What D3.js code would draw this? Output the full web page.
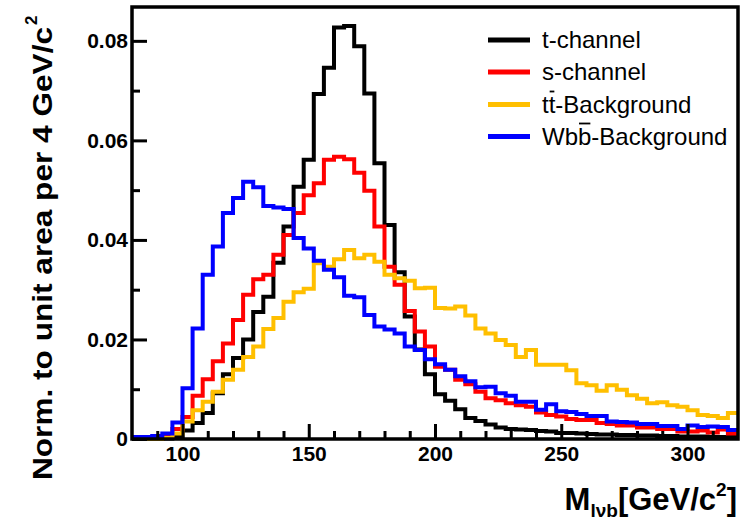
<!DOCTYPE html>
<html>
<head>
<meta charset="utf-8">
<script src="https://cdn.jsdelivr.net/npm/d3@7"></script>
<style>
  body { margin: 0; background: #fff; }
  svg { display: block; }
</style>
</head>
<body>
<svg></svg>
<script>
const size = {w: 748, h: 522};
const plot = {l: 132, r: 738, t: 7, b: 439};

// 4 GeV bins from 80 to 320
const binEdges = d3.range(80, 324, 4);

const tChannel = [0, 0, 0, 0.0001, 0.0004, 0.0017, 0.0032, 0.0052, 0.0092, 0.013,
  0.0163, 0.02, 0.0255, 0.0286, 0.0354, 0.0427, 0.0507, 0.0561, 0.0693, 0.0746,
  0.0827, 0.083, 0.0789, 0.0694, 0.0554, 0.043, 0.0335, 0.0246, 0.018, 0.013,
  0.009, 0.0077, 0.006, 0.0042, 0.0036, 0.0029, 0.0023, 0.002, 0.0019, 0.0018,
  0.0016, 0.0015, 0.0012, 0.0012, 0.0011, 0.001, 0.0009, 0.0009, 0.0008, 0.0008,
  0.0007, 0.0007, 0.0006, 0.0006, 0.0005, 0.0005, 0.0005, 0.0004, 0.0004, 0.0004];

const sChannel = [0, 0, 0, 0.0004, 0.002, 0.0044, 0.0087, 0.012, 0.0156, 0.0192,
  0.0239, 0.029, 0.0321, 0.033, 0.037, 0.041, 0.0454, 0.049, 0.0514, 0.0561,
  0.0567, 0.0562, 0.0535, 0.0499, 0.0427, 0.0346, 0.031, 0.0257, 0.0216, 0.0186,
  0.0145, 0.0139, 0.0119, 0.011, 0.0095, 0.0082, 0.0078, 0.0072, 0.0068, 0.0065,
  0.0053, 0.0048, 0.0045, 0.004, 0.0038, 0.0038, 0.0032, 0.003, 0.0027, 0.0027,
  0.0023, 0.0023, 0.002, 0.002, 0.0015, 0.0015, 0.0017, 0.0013, 0.0019, 0.0011];

const ttBackground = [0, 0, 0, 0.0002, 0.0011, 0.0035, 0.0058, 0.0075, 0.0095, 0.0119,
  0.0139, 0.0165, 0.0186, 0.0221, 0.0243, 0.0276, 0.0295, 0.0302, 0.0353, 0.0346,
  0.0361, 0.038, 0.0363, 0.037, 0.0356, 0.033, 0.0323, 0.0318, 0.0303, 0.0304,
  0.0263, 0.0262, 0.0266, 0.0248, 0.0222, 0.0212, 0.0199, 0.0189, 0.0165, 0.0179,
  0.0149, 0.0149, 0.0149, 0.0138, 0.0112, 0.0108, 0.0097, 0.0108, 0.0099, 0.0088,
  0.0081, 0.0072, 0.0074, 0.0068, 0.0065, 0.0058, 0.0048, 0.0046, 0.0042, 0.0052];

const wbbBackground = [0.0004, 0.0004, 0.0006, 0.0011, 0.0033, 0.0102, 0.0222, 0.033, 0.0387, 0.0454,
  0.0484, 0.0517, 0.0506, 0.0468, 0.0465, 0.0462, 0.0404, 0.0383, 0.0358, 0.034,
  0.0325, 0.0288, 0.0285, 0.0249, 0.0226, 0.022, 0.0212, 0.0186, 0.0179, 0.016,
  0.015, 0.0139, 0.0126, 0.0116, 0.0104, 0.0105, 0.0092, 0.0087, 0.0075, 0.0075,
  0.0059, 0.007, 0.0056, 0.0054, 0.005, 0.0046, 0.0046, 0.0035, 0.0034, 0.0033,
  0.003, 0.003, 0.0026, 0.0026, 0.002, 0.0027, 0.0024, 0.0025, 0.0024, 0.0018];

const series = [
  {name: 't-channel', values: tChannel, color: '#000000'},
  {name: 's-channel', values: sChannel, color: '#ff0000'},
  {name: 'tt-Background', values: ttBackground, color: '#ffbf00', bar: 1},
  {name: 'Wbb-Background', values: wbbBackground, color: '#0000ff', bar: 2}
];

const xMajor = [100, 150, 200, 250, 300];
const xMinor = [90, 110, 120, 130, 140, 160, 170, 180, 190, 210, 220, 230, 240, 260, 270, 280, 290, 310];
const yMajor = [0, 0.02, 0.04, 0.06, 0.08];
const yMinor = [0.01, 0.03, 0.05, 0.07];

const svg = d3.select('svg')
    .attr('width', size.w)
    .attr('height', size.h);

const x = d3.scaleLinear().domain([80, 320]).range([plot.l, plot.r]);
const y = d3.scaleLinear().domain([0, 0.0868]).range([plot.b, plot.t]);

const font = '"Liberation Sans", Arial, sans-serif';

// histograms
const line = d3.line()
    .x(d => x(d[0]))
    .y(d => y(d[1]))
    .curve(d3.curveStepAfter);

svg.append('g')
    .selectAll('path')
    .data(series)
    .join('path')
    .attr('d', s => {
        let pts = s.values.map((v, i) => [binEdges[i], v]);
        pts.push([binEdges[binEdges.length - 1], s.values[s.values.length - 1]]);
        return line(pts);
    })
    .attr('fill', 'none')
    .attr('stroke', s => s.color)
    .attr('stroke-width', 4)
    .attr('stroke-linejoin', 'miter');

// axes (ticks point inward)
function styleAxis(g) {
    g.select('.domain').remove();
    g.selectAll('.tick line').attr('stroke', '#000').attr('stroke-width', 3);
    g.selectAll('.tick text')
        .attr('fill', '#000')
        .style('font-family', font)
        .style('font-weight', 'bold')
        .style('font-size', '21px');
}

svg.append('g')
    .attr('transform', `translate(0,${plot.b})`)
    .call(d3.axisBottom(x).tickValues(xMajor).tickSize(-15).tickPadding(7).tickFormat(d3.format('d')))
    .call(styleAxis);

svg.append('g')
    .attr('transform', `translate(0,${plot.b})`)
    .call(d3.axisBottom(x).tickValues(xMinor).tickSize(-8).tickFormat(''))
    .call(styleAxis);

svg.append('g')
    .attr('transform', `translate(${plot.l},0)`)
    .call(d3.axisLeft(y).tickValues(yMajor).tickSize(-15).tickPadding(4)
        .tickFormat(d => d === 0 ? '0' : d3.format('.2f')(d)))
    .call(styleAxis);

svg.append('g')
    .attr('transform', `translate(${plot.l},0)`)
    .call(d3.axisLeft(y).tickValues(yMinor).tickSize(-8).tickFormat(''))
    .call(styleAxis);

// frame
svg.append('rect')
    .attr('x', plot.l)
    .attr('y', plot.t)
    .attr('width', plot.r - plot.l)
    .attr('height', plot.b - plot.t)
    .attr('fill', 'none')
    .attr('stroke', '#000')
    .attr('stroke-width', 3.5);

// y title
const yTitle = svg.append('g').attr('transform', 'translate(52,480) rotate(-90)');
yTitle.append('text')
    .attr('x', 0).attr('y', 0)
    .attr('textLength', 453)
    .attr('lengthAdjust', 'spacingAndGlyphs')
    .style('font-family', font)
    .style('font-weight', 'bold')
    .style('font-size', '27px')
    .text('Norm. to unit area per 4 GeV/c');
yTitle.append('text')
    .attr('x', 455).attr('y', -15)
    .style('font-family', font)
    .style('font-weight', 'bold')
    .style('font-size', '17px')
    .text('2');

// x title
const xTitle = svg.append('text')
    .attr('x', 737).attr('y', 510)
    .attr('text-anchor', 'end')
    .style('font-family', font)
    .style('font-weight', 'bold')
    .style('font-size', '31px');
xTitle.append('tspan').text('M');
xTitle.append('tspan').attr('dy', 7).style('font-size', '19px').text('lνb');
xTitle.append('tspan').attr('dy', -7).text('[GeV/c');
xTitle.append('tspan').attr('dy', -14).style('font-size', '19px').text('2');
xTitle.append('tspan').attr('dy', 14).text(']');

// legend
const legend = svg.append('g');
const rowY = [48, 80, 112.5, 144.5];
series.forEach((s, i) => {
    legend.append('line')
        .attr('x1', 488).attr('x2', 530)
        .attr('y1', rowY[i] - 8).attr('y2', rowY[i] - 8)
        .attr('stroke', s.color)
        .attr('stroke-width', 5);
    const t = legend.append('text')
        .attr('x', 542).attr('y', rowY[i])
        .style('font-family', font)
        .style('font-size', '24px')
        .attr('fill', '#000')
        .text(s.name);
    if (s.bar) {
        // overline on the barred letter (t-bar, b-bar)
        const node = t.node();
        const x0 = 542 + node.getSubStringLength(0, s.bar);
        const w = node.getSubStringLength(s.bar, 1);
        legend.append('line')
            .attr('x1', x0 + 1).attr('x2', x0 + w - 1)
            .attr('y1', rowY[i] - 21).attr('y2', rowY[i] - 21)
            .attr('stroke', '#000')
            .attr('stroke-width', 1.8);
    }
});
</script>
</body>
</html>
